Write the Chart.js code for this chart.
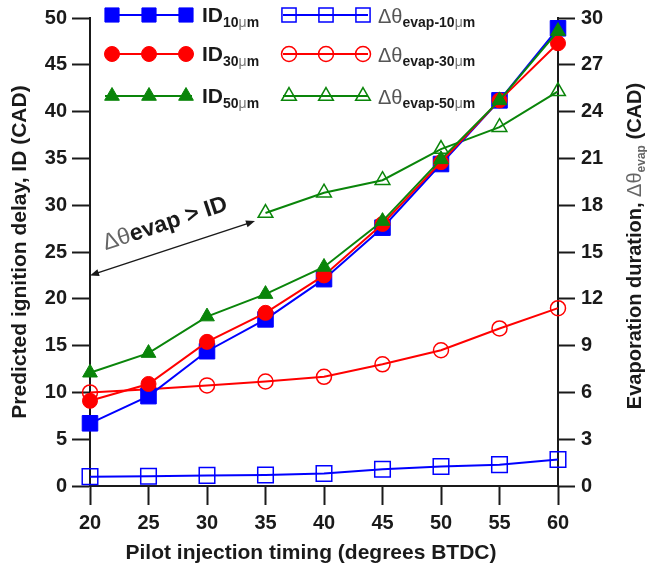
<!DOCTYPE html>
<html>
<head>
<meta charset="utf-8">
<script src="https://cdn.jsdelivr.net/npm/chart.js@4"></script>
<style>
  html, body { margin: 0; padding: 0; background: #fff; }
</style>
</head>
<body>
<canvas id="chart" width="647" height="569"></canvas>
<script>
// pilot injection timing (degrees BTDC)
const timing = [20, 25, 30, 35, 40, 45, 50, 55, 60];

// predicted ignition delay, CAD (left axis)
const id10 = [6.7, 9.6, 14.4, 17.8, 22.1, 27.6, 34.4, 41.2, 48.9];
const id30 = [9.1, 10.9, 15.4, 18.5, 22.5, 28.0, 34.6, 41.2, 47.3];
const id50 = [12.1, 14.2, 18.1, 20.5, 23.4, 28.3, 34.9, 41.2, 48.6];

// evaporation duration, CAD (right axis)
const evap10 = [0.6, 0.62, 0.68, 0.7, 0.8, 1.07, 1.25, 1.37, 1.7];
const evap30 = [6.0, 6.2, 6.45, 6.7, 7.0, 7.8, 8.7, 10.1, 11.4];
const evap50 = [null, null, null, 17.5, 18.8, 19.6, 21.6, 23.0, 25.3];

const BLUE = "#0000ff", RED = "#ff0000", GREEN = "#0a850a", INK = "#1a1a1a";
const FAMILY = "'Liberation Sans', Arial, sans-serif";

function pts(arr) {
  return timing.map((t, i) => ({ x: t, y: arr[i] }));
}

function series(label, arr, color, style, radius, filled, axis, order) {
  return {
    label: label,
    data: pts(arr),
    yAxisID: axis,
    order: order,
    clip: false,
    borderColor: color,
    borderWidth: 2,
    pointStyle: style,
    pointRadius: radius,
    pointBackgroundColor: filled ? color : "rgba(0,0,0,0)",
    pointBorderColor: color,
    pointBorderWidth: filled ? 1 : 1.5,
    spanGaps: false
  };
}

// marker drawing for the hand-made legend
function marker(ctx, style, x, y, r, color, filled) {
  ctx.save();
  ctx.beginPath();
  if (style === "rect") {
    const s = Math.SQRT1_2 * r;
    ctx.rect(x - s, y - s, 2 * s, 2 * s);
  } else if (style === "circle") {
    ctx.arc(x, y, r, 0, Math.PI * 2);
  } else {
    ctx.moveTo(x, y - r);
    ctx.lineTo(x + Math.sin(Math.PI * 2 / 3) * r, y + r / 2);
    ctx.lineTo(x - Math.sin(Math.PI * 2 / 3) * r, y + r / 2);
    ctx.closePath();
  }
  if (filled) { ctx.fillStyle = color; ctx.fill(); }
  ctx.lineWidth = filled ? 1 : 1.5;
  ctx.strokeStyle = color;
  ctx.stroke();
  ctx.restore();
}

// draw a run of text pieces one after the other
function runText(ctx, x, y, parts) {
  parts.forEach(p => {
    ctx.font = p.font;
    ctx.fillStyle = p.color || INK;
    ctx.fillText(p.text, x, y + (p.dy || 0));
    x += ctx.measureText(p.text).width;
  });
  return x;
}

function arrowHead(ctx, x, y, ang) {
  const len = 9, half = 3.5;
  ctx.beginPath();
  ctx.moveTo(x, y);
  ctx.lineTo(x - len * Math.cos(ang) + half * Math.sin(ang), y - len * Math.sin(ang) - half * Math.cos(ang));
  ctx.lineTo(x - len * Math.cos(ang) - half * Math.sin(ang), y - len * Math.sin(ang) + half * Math.cos(ang));
  ctx.closePath();
  ctx.fill();
}

const legendRows = [
  { main: "ID", sub: "10", style: "rect", r: 10, color: BLUE, filled: true, col: 0 },
  { main: "ID", sub: "30", style: "circle", r: 7.5, color: RED, filled: true, col: 0 },
  { main: "ID", sub: "50", style: "triangle", r: 8.5, color: GREEN, filled: true, col: 0 },
  { main: "\u0394\u03b8", sub: "evap-10", style: "rect", r: 10, color: BLUE, filled: false, col: 1 },
  { main: "\u0394\u03b8", sub: "evap-30", style: "circle", r: 7.5, color: RED, filled: false, col: 1 },
  { main: "\u0394\u03b8", sub: "evap-50", style: "triangle", r: 8.5, color: GREEN, filled: false, col: 1 }
];

const decor = {
  id: "decor",
  afterDraw(chart) {
    const ctx = chart.ctx;
    const xs = chart.scales.x, yl = chart.scales.y;
    ctx.save();
    ctx.textBaseline = "alphabetic";
    ctx.textAlign = "left";

    // legend
    const rowY = [15, 54, 96];
    const cols = [
      { x0: 105, x1: 192, m: [112, 149, 186], tx: 202 },
      { x0: 283, x1: 368, m: [289, 326, 363], tx: 378 }
    ];
    legendRows.forEach((row, i) => {
      const c = cols[row.col];
      const y = rowY[i % 3];
      ctx.strokeStyle = row.color;
      ctx.lineWidth = 2;
      ctx.beginPath();
      ctx.moveTo(c.x0, y);
      ctx.lineTo(c.x1, y);
      ctx.stroke();
      c.m.forEach(mx => marker(ctx, row.style, mx, y, row.r, row.color, row.filled));
      if (row.col === 0) {
        runText(ctx, c.tx, y + 7, [
          { text: row.main, font: "bold 21px " + FAMILY },
          { text: row.sub, font: "bold 14px " + FAMILY, dy: 5 },
          { text: "\u03bc", font: "14px " + FAMILY, color: "#777", dy: 5 },
          { text: "m", font: "bold 14px " + FAMILY, dy: 5 }
        ]);
      } else {
        runText(ctx, c.tx, y + 8, [
          { text: row.main, font: "20px " + FAMILY, color: "#555" },
          { text: row.sub, font: "bold 14px " + FAMILY, dy: 4 },
          { text: "\u03bc", font: "14px " + FAMILY, color: "#777", dy: 4 },
          { text: "m", font: "bold 14px " + FAMILY, dy: 4 }
        ]);
      }
    });

    // double arrow  "Δθevap > ID"
    const ax0 = xs.getPixelForValue(20), ay0 = yl.getPixelForValue(22.5);
    const ax1 = xs.getPixelForValue(34.1), ay1 = yl.getPixelForValue(28.3);
    const ang = Math.atan2(ay1 - ay0, ax1 - ax0);
    ctx.strokeStyle = INK;
    ctx.fillStyle = INK;
    ctx.lineWidth = 1.5;
    ctx.beginPath();
    ctx.moveTo(ax0 + 4 * Math.cos(ang), ay0 + 4 * Math.sin(ang));
    ctx.lineTo(ax1 - 4 * Math.cos(ang), ay1 - 4 * Math.sin(ang));
    ctx.stroke();
    arrowHead(ctx, ax1, ay1, ang);
    arrowHead(ctx, ax0, ay0, ang + Math.PI);

    const t = 0.13, off = 19;
    const tx = ax0 + t * (ax1 - ax0) + off * Math.sin(ang);
    const ty = ay0 + t * (ay1 - ay0) - off * Math.cos(ang);
    ctx.save();
    ctx.translate(tx, ty);
    ctx.rotate(ang);
    runText(ctx, 0, 0, [
      { text: "\u0394\u03b8", font: "23px " + FAMILY, color: "#666" },
      { text: "evap > ID", font: "bold 23px " + FAMILY }
    ]);
    ctx.restore();

    // x axis title (sits a little left of the axis centre in the original)
    ctx.font = "bold 21px " + FAMILY;
    ctx.fillStyle = INK;
    ctx.textAlign = "center";
    ctx.fillText("Pilot injection timing (degrees BTDC)", 311, 559);
    ctx.textAlign = "left";

    // right axis title with subscript
    ctx.save();
    ctx.translate(633, 0);
    ctx.rotate(-Math.PI / 2);
    const parts = [
      { text: "Evaporation duration, ", font: "bold 20px " + FAMILY },
      { text: "\u0394\u03b8", font: "20px " + FAMILY, color: "#666" },
      { text: "evap", font: "bold 12px " + FAMILY, dy: 4, color: "#666" },
      { text: " (CAD)", font: "bold 20px " + FAMILY }
    ];
    let w = 0;
    parts.forEach(p => { ctx.font = p.font; w += ctx.measureText(p.text).width; });
    const mid = (chart.chartArea.top + chart.chartArea.bottom) / 2 - 6;
    runText(ctx, -mid - w / 2, 8, parts);
    ctx.restore();

    ctx.restore();
  }
};

function gridOpts(len) {
  return {
    drawOnChartArea: false,
    drawTicks: true,
    tickLength: len,
    tickWidth: 2,
    tickColor: INK
  };
}

const tickFont = { family: FAMILY, size: 20, weight: "bold" };
const titleFont = { family: FAMILY, size: 21, weight: "bold" };

new Chart(document.getElementById("chart").getContext("2d"), {
  type: "line",
  data: {
    datasets: [
      series("ID 10\u03bcm", id10, BLUE, "rect", 11, true, "y", 3),
      series("ID 30\u03bcm", id30, RED, "circle", 7.5, true, "y", 2),
      series("ID 50\u03bcm", id50, GREEN, "triangle", 8.5, true, "y", 1),
      series("\u0394\u03b8 evap-10\u03bcm", evap10, BLUE, "rect", 11, false, "y1", 6),
      series("\u0394\u03b8 evap-30\u03bcm", evap30, RED, "circle", 7.5, false, "y1", 5),
      series("\u0394\u03b8 evap-50\u03bcm", evap50, GREEN, "triangle", 8.5, false, "y1", 4)
    ]
  },
  options: {
    responsive: false,
    animation: false,
    layout: { padding: { top: 18, left: 0, right: 0, bottom: 0 } },
    plugins: { legend: { display: false }, tooltip: { enabled: false } },
    scales: {
      x: {
        type: "linear",
        min: 20,
        max: 60,
        ticks: { stepSize: 5, font: tickFont, color: INK, maxRotation: 0, padding: 6 },
        grid: gridOpts(19),
        border: { display: true, color: INK, width: 2 },
        afterFit: s => { s.height = 83; }
      },
      y: {
        position: "left",
        min: 0,
        max: 50,
        ticks: { stepSize: 5, font: tickFont, color: INK, padding: 5 },
        grid: gridOpts(18),
        border: { display: true, color: INK, width: 2 },
        title: {
          display: true,
          text: "Predicted ignition delay, ID (CAD)",
          font: titleFont,
          color: INK,
          padding: { top: 8, bottom: 0 }
        },
        afterFit: s => { s.width = 90; }
      },
      y1: {
        position: "right",
        min: 0,
        max: 30,
        ticks: { stepSize: 3, font: tickFont, color: INK, padding: 6 },
        grid: gridOpts(17),
        border: { display: true, color: INK, width: 2 },
        afterFit: s => { s.width = 89; }
      }
    }
  },
  plugins: [decor]
});
</script>
</body>
</html>
